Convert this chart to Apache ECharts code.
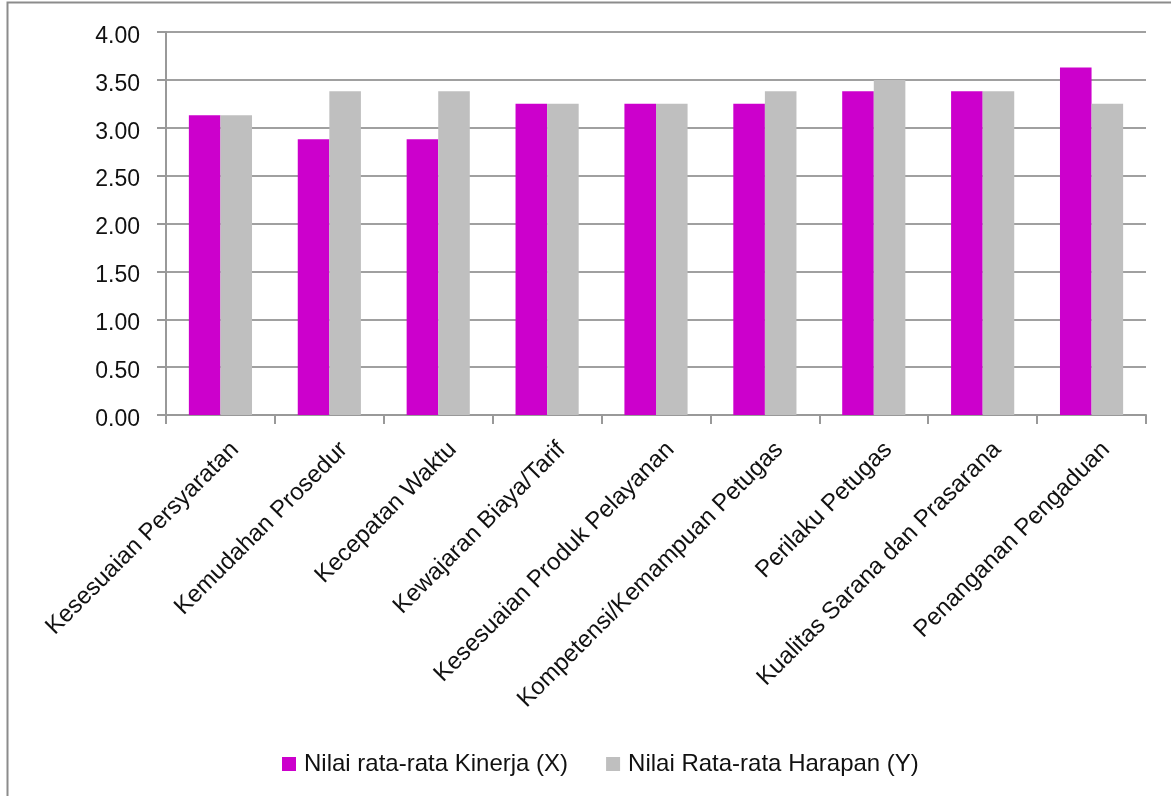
<!DOCTYPE html>
<html><head><meta charset="utf-8">
<script src="https://cdn.jsdelivr.net/npm/echarts@6/dist/echarts.min.js"></script>
<style>html,body{margin:0;padding:0;background:#fff}#c{width:1171px;height:796px}</style>
</head><body><div id="c"></div>
<script>
const categories = ['Kesesuaian Persyaratan','Kemudahan Prosedur','Kecepatan Waktu','Kewajaran Biaya/Tarif','Kesesuaian Produk Pelayanan','Kompetensi/Kemampuan Petugas','Perilaku Petugas','Kualitas Sarana dan Prasarana','Penanganan Pengaduan'];
const kinerja = [3.13,2.88,2.88,3.25,3.25,3.25,3.38,3.38,3.63];
const harapan = [3.13,3.38,3.38,3.25,3.25,3.38,3.50,3.38,3.25];
const seriesNames = ['Nilai rata-rata Kinerja (X)','Nilai Rata-rata Harapan (Y)'];
const yMin = 0, yMax = 4, yStep = 0.5;

const FONT = '"Liberation Sans", Arial, sans-serif';
const chart = echarts.init(document.getElementById('c'), null, {renderer:'canvas'});
chart.setOption({
  animation:false,
  backgroundColor:'#fff',
  graphic:[{type:'rect',shape:{x:7.5,y:2.5,width:1300,height:900},style:{fill:'none',stroke:'#8c8c8c',lineWidth:2},silent:true}],
  grid:[
    {left:166,top:32,width:980,bottom:381,containLabel:false},
    {left:180.5,top:32,width:980,bottom:381,containLabel:false}
  ],
  legend:{left:277,top:747,itemWidth:14,itemHeight:14,itemGap:38,icon:'rect',
    textStyle:{fontFamily:FONT,fontSize:24,color:'#111',padding:[0,0,0,3]},data:seriesNames},
  xAxis:[
    {type:'category',gridIndex:0,data:categories,
      axisLine:{lineStyle:{color:'#999',width:2}},
      axisTick:{show:true,interval:0,length:9,alignWithLabel:false,lineStyle:{color:'#999',width:2}},
      axisLabel:{show:false,interval:0}},
    {type:'category',gridIndex:1,data:categories,
      axisLine:{show:false},axisTick:{show:false},splitLine:{show:false},
      axisLabel:{interval:0,rotate:45,margin:31,fontFamily:FONT,fontSize:24,color:'#111'}}
  ],
  yAxis:[
    {type:'value',gridIndex:0,min:yMin,max:yMax,interval:yStep,
      axisLine:{show:true,lineStyle:{color:'#999',width:2}},
      axisTick:{show:true,length:9,lineStyle:{color:'#999',width:2}},
      splitLine:{lineStyle:{color:'#a0a0a0',width:2}},
      axisLabel:{margin:26,fontFamily:FONT,fontSize:23,color:'#111',verticalAlign:'top',lineHeight:9,
        formatter:v=>v.toFixed(2)}},
    {type:'value',gridIndex:1,min:yMin,max:yMax,interval:yStep,show:false}
  ],
  series:[
    {name:seriesNames[0],type:'bar',data:kinerja,itemStyle:{color:'#cc00cc'},barGap:'0%',barCategoryGap:'42%'},
    {name:seriesNames[1],type:'bar',data:harapan,itemStyle:{color:'#bfbfbf'},barGap:'0%',barCategoryGap:'42%'}
  ]
});
</script></body></html>
